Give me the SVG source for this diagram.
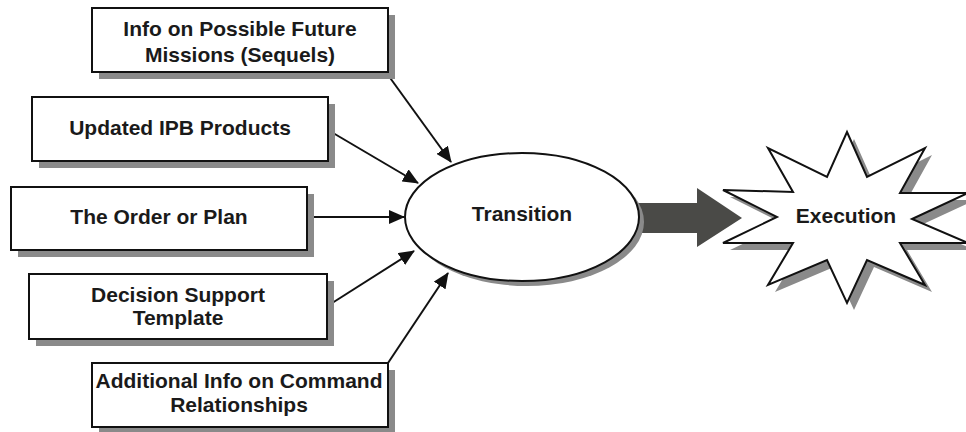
<svg xmlns="http://www.w3.org/2000/svg" width="966" height="432" viewBox="0 0 966 432">
<style>
.box{fill:#fff;stroke:#111;stroke-width:2}
.sh{fill:#8a8a8a}
.t{font-family:"Liberation Sans",Arial,sans-serif;font-weight:bold;font-size:21px;fill:#1a1a1a;text-anchor:middle}
.c{stroke:#111;stroke-width:2;fill:none;marker-end:url(#ah)}
</style>
<defs>
<marker id="ah" viewBox="0 0 10 10" refX="10" refY="5" markerWidth="8" markerHeight="8" markerUnits="userSpaceOnUse" orient="auto">
<path d="M0,0 L10,5 L0,10 z" fill="#111"/>
</marker>
<marker id="ah2" viewBox="0 0 16 14" refX="15" refY="7" markerWidth="16" markerHeight="14" markerUnits="userSpaceOnUse" orient="auto">
<path d="M0,0 L16,7 L0,14 z" fill="#111"/>
</marker>
</defs>
<rect width="966" height="432" fill="#fff"/>

<g id="connectors">
<line x1="388" y1="75" x2="451" y2="162" stroke="#111" stroke-width="2" marker-end="url(#ah2)"/>
<line x1="328" y1="130" x2="418" y2="183" stroke="#111" stroke-width="2" marker-end="url(#ah2)"/>
<line x1="307" y1="217" x2="404" y2="217" stroke="#111" stroke-width="2" marker-end="url(#ah2)"/>
<line x1="329" y1="305" x2="414" y2="251" stroke="#111" stroke-width="2" marker-end="url(#ah2)"/>
<line x1="388" y1="363" x2="448" y2="273" stroke="#111" stroke-width="2" marker-end="url(#ah2)"/>
<polygon id="bigarrow" points="638,203 697,203 697,188 742,218 697,247 697,233 638,233" fill="#4a4a47"/>
</g>

<g id="n1">
<rect class="sh" x="99" y="15" width="296" height="64"/>
<rect class="box" x="92" y="8" width="296" height="64"/>
<text class="t" x="240" y="36">Info on Possible Future</text>
<text class="t" x="240" y="62">Missions (Sequels)</text>
</g>

<g id="n2">
<rect class="sh" x="39" y="104" width="296" height="64"/>
<rect class="box" x="32" y="97" width="296" height="64"/>
<text class="t" x="180" y="135">Updated IPB Products</text>
</g>

<g id="n3">
<rect class="sh" x="18" y="194" width="296" height="63"/>
<rect class="box" x="11" y="187" width="296" height="63"/>
<text class="t" x="159" y="224">The Order or Plan</text>
</g>

<g id="n4">
<rect class="sh" x="36" y="281" width="298" height="65"/>
<rect class="box" x="29" y="274" width="298" height="65"/>
<text class="t" x="178" y="302">Decision Support</text>
<text class="t" x="178" y="325">Template</text>
</g>

<g id="n5">
<rect class="sh" x="99" y="370" width="296" height="64"/>
<rect class="box" x="92" y="363" width="296" height="64"/>
<text class="t" x="239" y="388">Additional Info on Command</text>
<text class="t" x="239" y="412">Relationships</text>
</g>

<g id="transition">
<ellipse cx="527" cy="222" rx="117" ry="64" fill="#8a8a8a"/>
<ellipse cx="522" cy="217" rx="117" ry="64" fill="#fff" stroke="#111" stroke-width="2"/>
<text class="t" x="522" y="221">Transition</text>
</g>

<g id="execution">
<polygon transform="translate(7,7)" fill="#8a8a8a" points="847,132 867,177 925,148 900,193 968,193 912,219 968,243 900,243 925,285 867,260 847,303 827,260 768,285 793,243 723,243 777,217 723,190 793,192 768,148 827,177"/>
<polygon fill="#fff" stroke="#111" stroke-width="2" stroke-linejoin="miter" points="847,132 867,177 925,148 900,193 968,193 912,219 968,243 900,243 925,285 867,260 847,303 827,260 768,285 793,243 723,243 777,217 723,190 793,192 768,148 827,177"/>
<text class="t" x="846" y="223">Execution</text>
</g>
</svg>
